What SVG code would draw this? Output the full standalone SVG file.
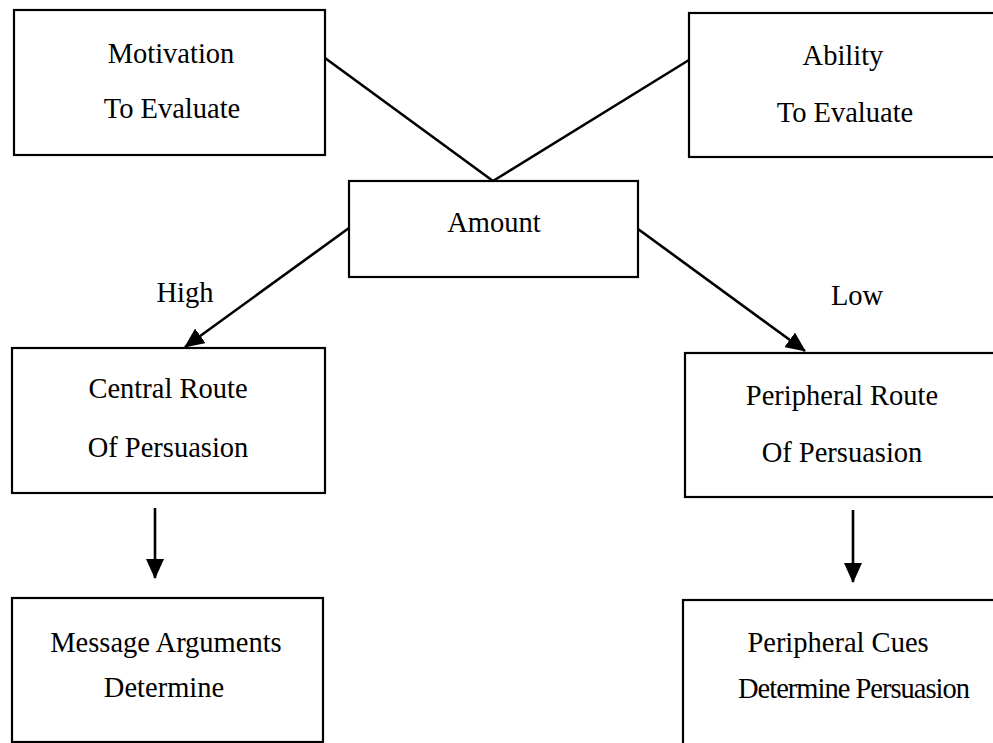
<svg xmlns="http://www.w3.org/2000/svg" width="993" height="743" viewBox="0 0 993 743">
<style>
.box{fill:#fff;stroke:#000;stroke-width:2.2}
.t{font-family:"Liberation Serif","Times New Roman",serif;font-size:28.5px;fill:#000;text-anchor:middle}
.c{stroke:#000;stroke-width:2.6;fill:none}
</style>
<defs>
<marker id="ah" viewBox="0 0 20 18" refX="19" refY="9" markerWidth="20" markerHeight="18" markerUnits="userSpaceOnUse" orient="auto">
<path d="M0,0 L20,9 L0,18 z" fill="#000"/>
</marker>
</defs>
<rect width="993" height="743" fill="#fff"/>
<g id="connectors">
<line class="c" x1="325" y1="58" x2="493" y2="181"/>
<line class="c" x1="689" y1="60" x2="493" y2="181"/>
<line class="c" x1="349" y1="228" x2="185" y2="347" marker-end="url(#ah)"/>
<line class="c" x1="638" y1="229" x2="805" y2="351" marker-end="url(#ah)"/>
<line class="c" x1="155" y1="508" x2="155" y2="578" marker-end="url(#ah)"/>
<line class="c" x1="853" y1="510" x2="853" y2="582" marker-end="url(#ah)"/>
</g>
<g id="motivation">
<rect class="box" x="14" y="10" width="311" height="145"/>
<text class="t" x="171" y="63">Motivation</text>
<text class="t" x="172" y="118">To Evaluate</text>
</g>
<g id="ability">
<rect class="box" x="689" y="13" width="320" height="144"/>
<text class="t" x="843" y="65">Ability</text>
<text class="t" x="845" y="122">To Evaluate</text>
</g>
<g id="amount">
<rect class="box" x="349" y="181" width="289" height="96"/>
<text class="t" x="494" y="232">Amount</text>
</g>
<g id="label-high">
<text class="t" x="185" y="302">High</text>
</g>
<g id="label-low">
<text class="t" x="857" y="305">Low</text>
</g>
<g id="central">
<rect class="box" x="12" y="348" width="313" height="145"/>
<text class="t" x="168" y="398">Central Route</text>
<text class="t" x="168" y="457">Of Persuasion</text>
</g>
<g id="peripheral-route">
<rect class="box" x="685" y="353" width="320" height="144"/>
<text class="t" x="842" y="405">Peripheral Route</text>
<text class="t" x="842" y="462">Of Persuasion</text>
</g>
<g id="message">
<rect class="box" x="12" y="598" width="311" height="144"/>
<text class="t" x="166" y="652">Message Arguments</text>
<text class="t" x="164" y="697">Determine</text>
</g>
<g id="peripheral-cues">
<rect class="box" x="683" y="600" width="320" height="160"/>
<text class="t" x="838" y="652">Peripheral Cues</text>
<text class="t" x="854" y="698" textLength="232" lengthAdjust="spacing">Determine Persuasion</text>
</g>
</svg>
